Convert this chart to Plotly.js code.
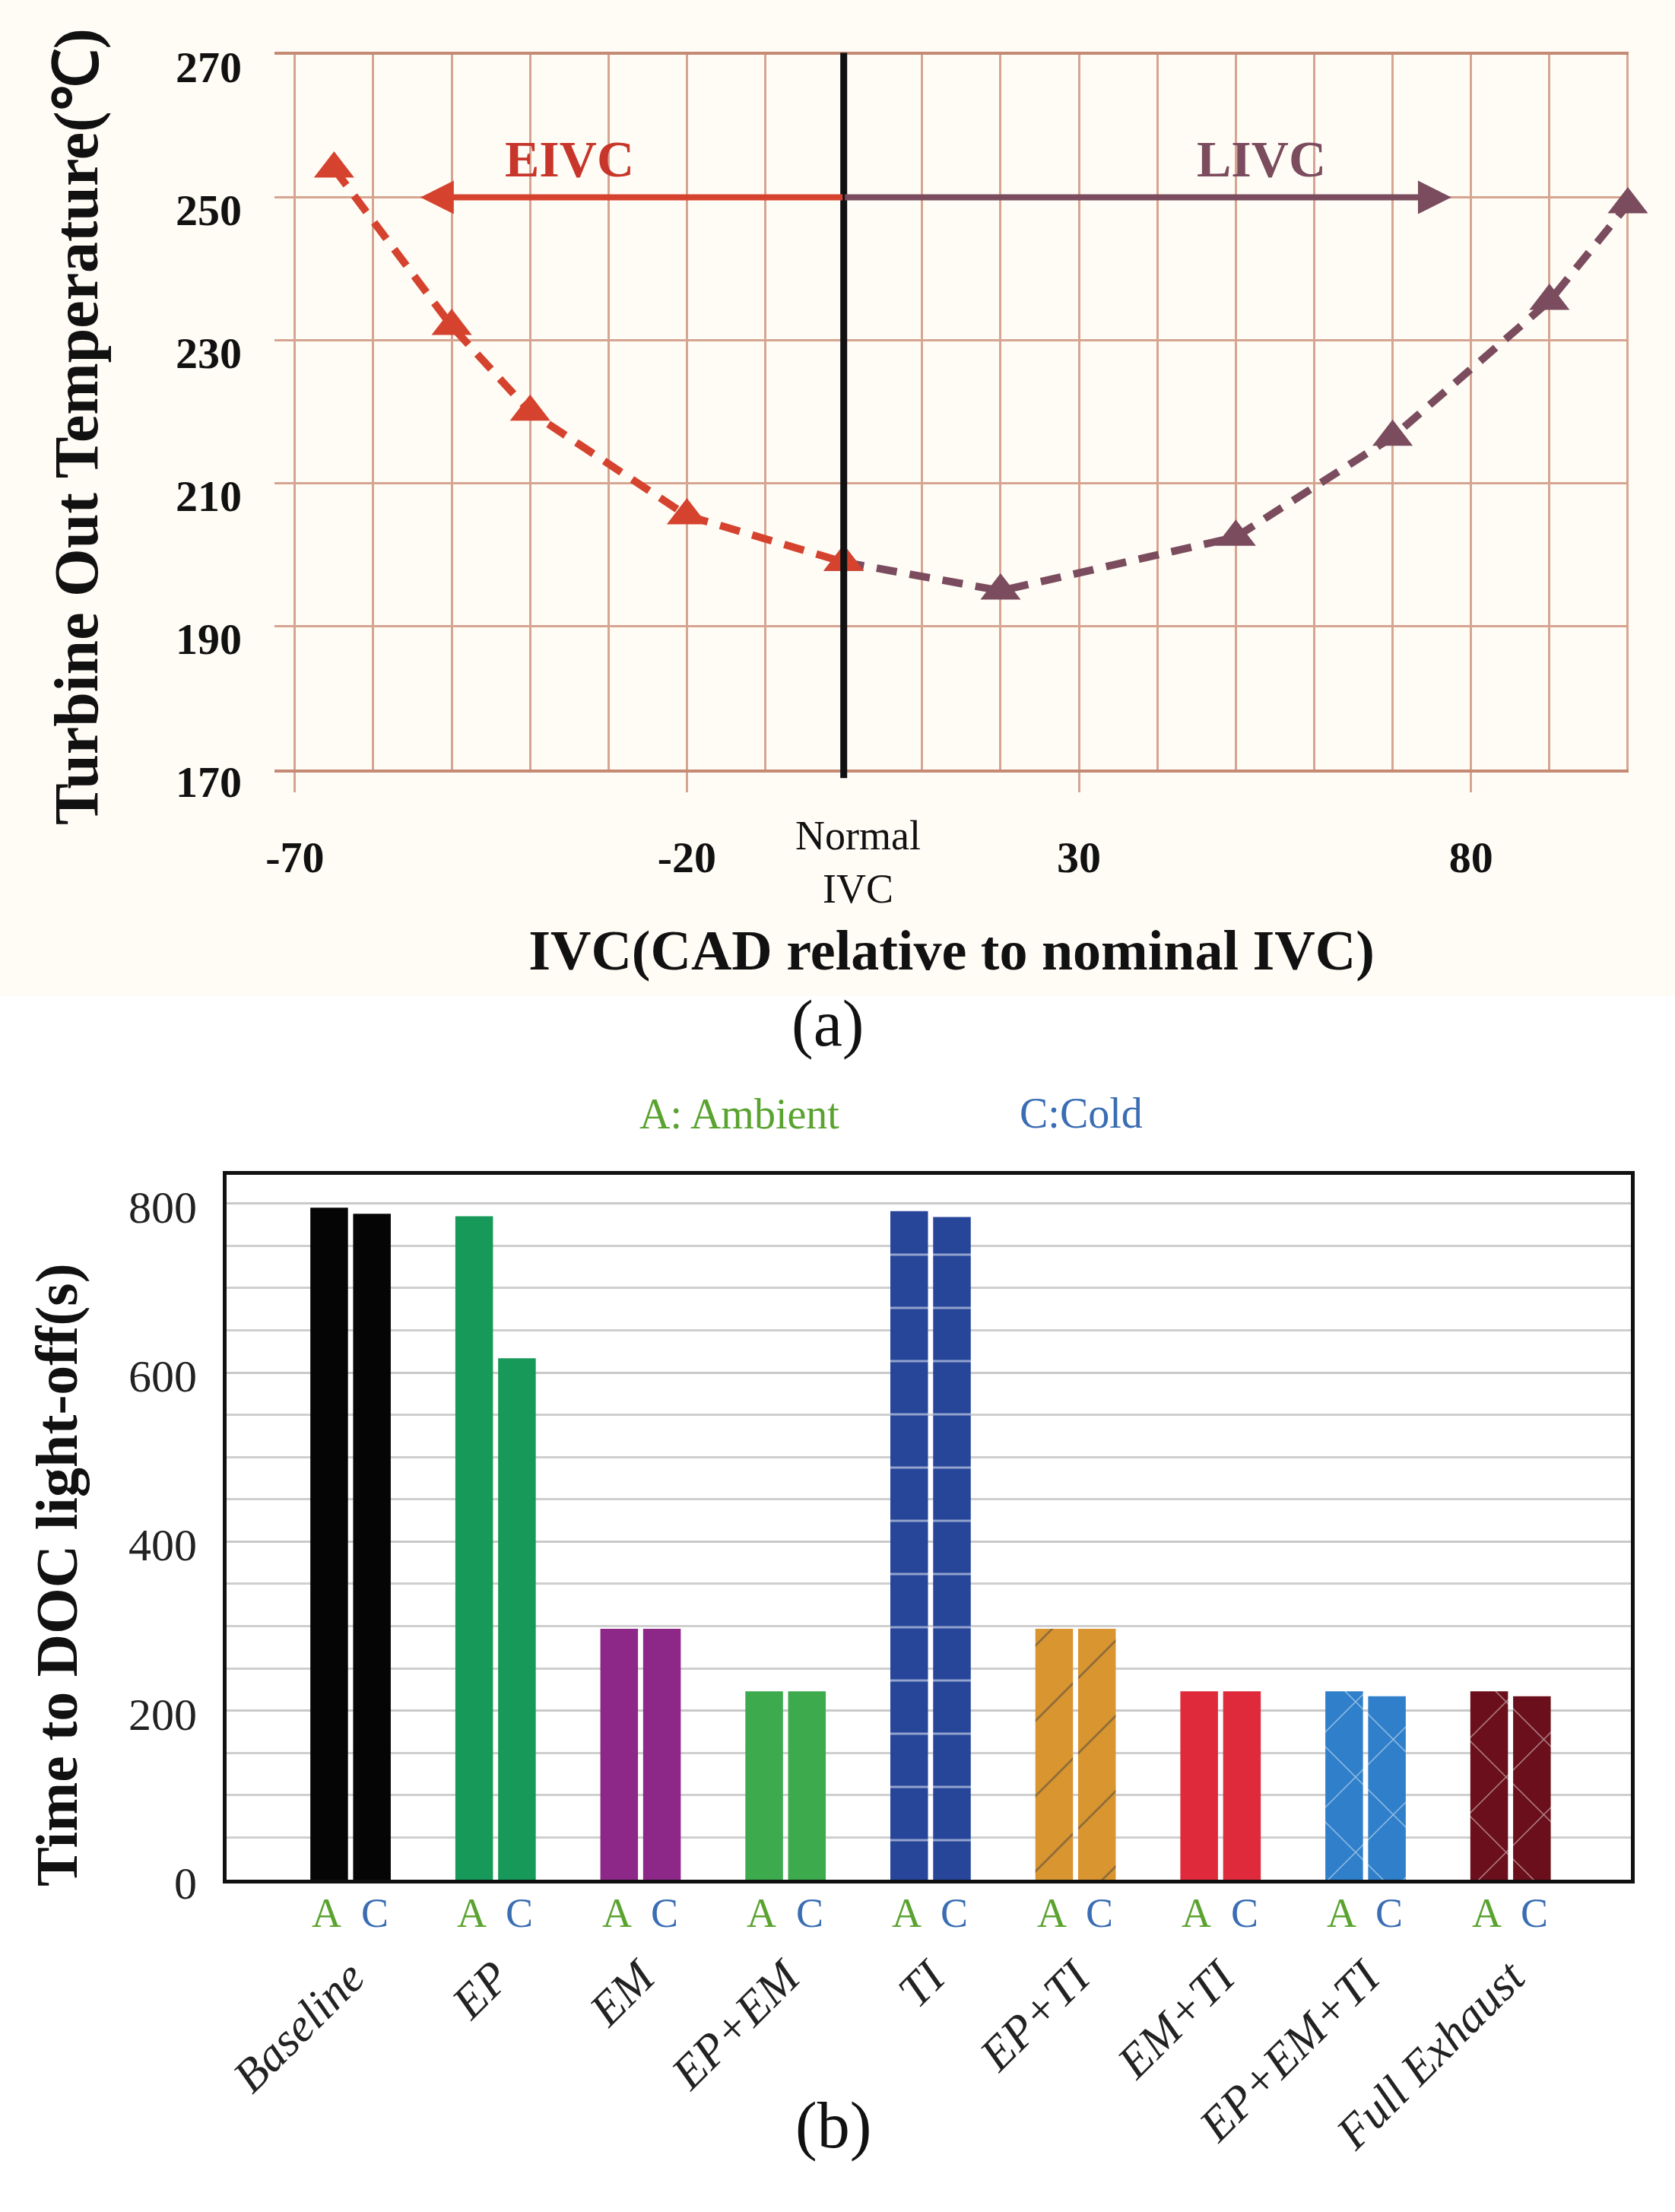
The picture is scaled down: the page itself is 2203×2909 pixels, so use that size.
<!DOCTYPE html>
<html>
<head>
<meta charset="utf-8">
<script src="https://cdn.plot.ly/plotly-3.0.1.min.js"></script>
<style>
  body { margin: 0; background: #fff; }
  #chart { width: 2203px; height: 2909px; }
</style>
</head>
<body>
<div id="chart"></div>
<script>
// (a) turbine out temperature vs IVC timing
var eivcX = [-65, -50, -40, -20, 0];
var eivcY = [254, 232, 220, 205.5, 199];
var livcX = [0, 20, 50, 70, 90, 100];
var livcY = [199, 195, 202.5, 216.5, 235.5, 249];
var ivcTicks = [-70, -20, 30, 80];
var ivcTickText = ['-70', '-20', '30', '80'];

// (b) time to DOC light-off
var strategies = ['Baseline', 'EP', 'EM', 'EP+EM', 'TI', 'EP+TI', 'EM+TI', 'EP+EM+TI', 'Full Exhaust'];
var ambientTime = [795, 785, 297, 223, 791, 297, 223, 223, 223];
var coldTime = [788, 617, 297, 223, 784, 297, 223, 217, 217];

var barColors = ['#050505', '#17995a', '#8e2888', '#3daa4e', '#27469a', '#d9952f', '#de2a3b', '#2f7fca', '#6a0f1b'];
var barPatterns = ['', '', '', '', '-', '/', '', 'x', 'x'];
var patternColors = ['#000', '#000', '#000', '#000', 'rgba(255,255,255,0.12)', '#4a3410', '#000', 'rgba(20,40,80,0.35)', 'rgba(230,190,190,0.6)'];

var redCol = '#d5432f';
var mauveCol = '#7a4c5e';
var gridCol = '#d6a591';
var serif = 'Liberation Serif';
var H = 2909, W = 2203;

var traces = [
  {
    x: livcX, y: livcY, xaxis: 'x', yaxis: 'y',
    type: 'scatter', mode: 'lines+markers', cliponaxis: false,
    line: {color: mauveCol, width: 10, dash: '27px,17px'},
    marker: {symbol: 'triangle-up', size: 46, color: mauveCol}
  },
  {
    x: eivcX, y: eivcY, xaxis: 'x', yaxis: 'y',
    type: 'scatter', mode: 'lines+markers', cliponaxis: false,
    line: {color: redCol, width: 10, dash: '27px,17px'},
    marker: {symbol: 'triangle-up', size: 46, color: redCol}
  },
  {
    name: 'A', x: strategies, y: ambientTime, xaxis: 'x2', yaxis: 'y2', type: 'bar',
    marker: {color: barColors, line: {width: 0},
      pattern: {shape: barPatterns, fgcolor: patternColors, size: 70, solidity: 0.04, fillmode: 'overlay'}}
  },
  {
    name: 'C', x: strategies, y: coldTime, xaxis: 'x2', yaxis: 'y2', type: 'bar',
    marker: {color: barColors, line: {width: 0},
      pattern: {shape: barPatterns, fgcolor: patternColors, size: 70, solidity: 0.04, fillmode: 'overlay'}}
  }
];

function paperText(text, px, py, size, color, extra) {
  var a = {xref: 'paper', yref: 'paper', x: px / W, y: 1 - py / H, text: text, showarrow: false,
    xanchor: 'center', yanchor: 'middle', font: {family: serif, size: size, color: color}};
  return Object.assign(a, extra || {});
}

var annotations = [
  {xref: 'x', yref: 'paper', x: 0, y: 1 - 1134 / H, xshift: 19, text: 'Normal<br>IVC', showarrow: false,
   xanchor: 'center', yanchor: 'middle', font: {family: serif, size: 54, color: '#111'}},
  {xref: 'x', yref: 'y', x: -35, y: 255.4, text: 'EIVC', showarrow: false,
   font: {family: serif, size: 68, color: '#c8352a', weight: 'bold'}},
  {xref: 'x', yref: 'y', x: 53.3, y: 255.4, text: 'LIVC', showarrow: false,
   font: {family: serif, size: 68, color: '#7a4c5e', weight: 'bold'}},
  {xref: 'x', yref: 'y', axref: 'x', ayref: 'y', x: -54, y: 250, ax: 0, ay: 250, text: '',
   showarrow: true, arrowhead: 2, arrowsize: 1.1, arrowwidth: 8, arrowcolor: redCol},
  {xref: 'x', yref: 'y', axref: 'x', ayref: 'y', x: 77.5, y: 250, ax: 0, ay: 250, text: '',
   showarrow: true, arrowhead: 2, arrowsize: 1.1, arrowwidth: 8, arrowcolor: mauveCol},
  paperText('Turbine Out Temperature(℃)', 100, 561, 82, '#111', {textangle: -90, font: {family: serif, size: 82, color: '#111', weight: 'bold'}}),
  paperText('(a)', 1088, 1346, 86, '#111'),
  paperText('A: Ambient', 972, 1465, 56, '#5ba330'),
  paperText('C:Cold', 1422, 1464, 56, '#3a6db3'),
  paperText('Time to DOC light-off(s)', 74, 2071, 78, '#111', {textangle: -90, font: {family: serif, size: 78, color: '#111', weight: 'bold'}}),
  paperText('(b)', 1096, 2795, 86, '#111')
];

// A / C letters under each bar pair
strategies.forEach(function (s, i) {
  annotations.push({xref: 'x2', yref: 'paper', x: i - 0.165, y: 1 - 2516 / H, text: 'A', showarrow: false,
    xanchor: 'center', yanchor: 'middle', font: {family: serif, size: 54, color: '#5ba330'}});
  annotations.push({xref: 'x2', yref: 'paper', x: i + 0.165, y: 1 - 2516 / H, text: 'C', showarrow: false,
    xanchor: 'center', yanchor: 'middle', font: {family: serif, size: 54, color: '#3a6db3'}});
});

var layout = {
  width: W, height: H,
  margin: {l: 0, r: 0, t: 0, b: 0},
  paper_bgcolor: '#ffffff',
  plot_bgcolor: 'rgba(0,0,0,0)',
  showlegend: false,
  font: {family: serif, color: '#111'},
  barmode: 'group',
  bargap: 0.41,
  bargroupgap: 0.12,
  xaxis: {
    domain: [361 / W, 2142 / W], anchor: 'y',
    range: [-72.6, 100.1],
    tickmode: 'array', tickvals: ivcTicks, ticktext: ivcTickText,
    showgrid: true, gridcolor: gridCol, gridwidth: 3,
    minor: {tick0: -70, dtick: 10, showgrid: true, gridcolor: gridCol, gridwidth: 3},
    ticks: 'outside', ticklen: 26, tickwidth: 3, tickcolor: gridCol,
    showline: true, linecolor: '#c48a74', linewidth: 4, mirror: true,
    zeroline: false,
    tickfont: {family: serif, size: 58, color: '#111', weight: 'bold'},
    ticklabelstandoff: 35,
    title: {text: 'IVC(CAD relative to nominal IVC)', standoff: 66,
      font: {family: serif, size: 74, color: '#111', weight: 'bold'}}
  },
  yaxis: {
    domain: [1 - 1012 / H, 1 - 71.5 / H], anchor: 'x',
    range: [170, 270],
    tickmode: 'linear', tick0: 170, dtick: 20,
    showgrid: true, gridcolor: gridCol, gridwidth: 3,
    zeroline: false, ticks: '',
    tickfont: {family: serif, size: 58, color: '#111', weight: 'bold'},
    ticklabelstandoff: 42,
    ticklabelshift: 16
  },
  xaxis2: {
    domain: [298 / W, 2145 / W], anchor: 'y2',
    type: 'category',
    range: [-0.855, 8.83],
    showgrid: false,
    ticks: '', tickangle: -45,
    showline: true, linecolor: '#111', linewidth: 5, mirror: true,
    tickfont: {family: serif, size: 62, color: '#222', style: 'italic'},
    ticklabelstandoff: 62
  },
  yaxis2: {
    domain: [1 - 2472 / H, 1 - 1545 / H], anchor: 'x2',
    range: [0, 834],
    tickmode: 'linear', tick0: 0, dtick: 200,
    showgrid: true, gridcolor: '#c9c9c9', gridwidth: 3,
    minor: {tick0: 0, dtick: 50, showgrid: true, gridcolor: '#cfcfcf', gridwidth: 3},
    showline: true, linecolor: '#111', linewidth: 5, mirror: true,
    zeroline: false, ticks: '',
    tickfont: {family: serif, size: 60, color: '#222'},
    ticklabelstandoff: 22,
    ticklabelshift: 4
  },
  shapes: [
    {type: 'rect', xref: 'paper', yref: 'paper', x0: 0, x1: 1, y0: 1 - 1310 / H, y1: 1,
     fillcolor: '#fffcf6', line: {width: 0}, layer: 'below'},
    {type: 'line', xref: 'x', yref: 'y domain', x0: 0, x1: 0, y0: -0.012, y1: 1.002,
     line: {color: '#111', width: 9}}
  ],
  annotations: annotations
};

Plotly.newPlot('chart', traces, layout, {staticPlot: true});
</script>
</body>
</html>
